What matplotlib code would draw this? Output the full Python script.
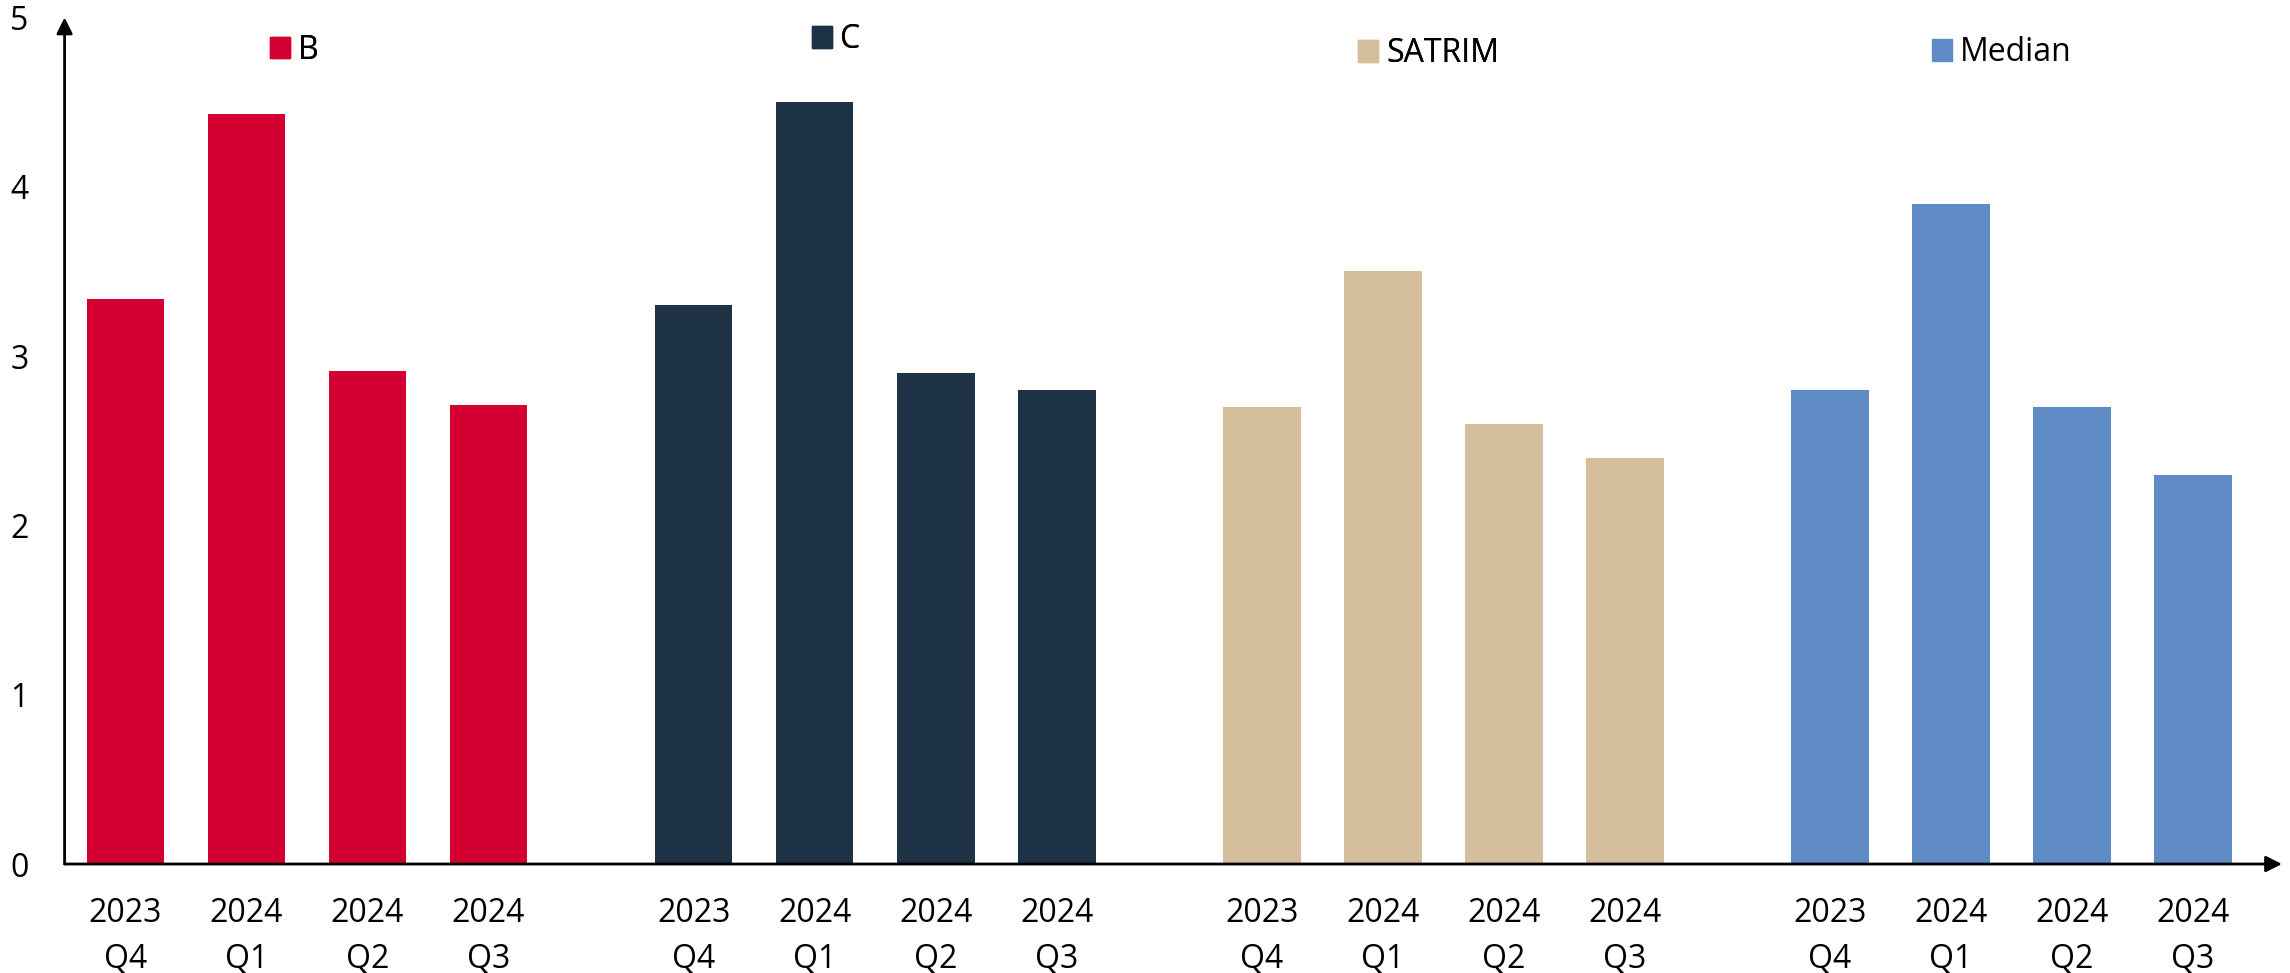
import matplotlib
matplotlib.use('Agg')
import matplotlib.pyplot as plt
from matplotlib.patches import Patch
import numpy as np

plt.rcParams['font.family'] = ['Open Sans', 'DejaVu Sans']

# data
series = ['B', 'C', 'SATRIM', 'Median']
quarters = ['2023\nQ4', '2024\nQ1', '2024\nQ2', '2024\nQ3']
b_vals = [3.34, 4.43, 2.91, 2.71]
c_vals = [3.30, 4.50, 2.90, 2.80]
satrim_vals = [2.70, 3.50, 2.60, 2.40]
median_vals = [2.80, 3.90, 2.70, 2.30]
colors = ['#D50032', '#1E3246', '#D5BE9B', '#5F8CC6']

all_vals = [b_vals, c_vals, satrim_vals, median_vals]

# layout
group_step = 4.695
bar_w = 0.642
legend_pos = [(0.1179, 0.9486), (0.3546, 0.9594), (0.5930, 0.9450), (0.8437, 0.9460)]
fs = 23

fig = plt.figure(figsize=(22.9, 9.73), dpi=100)
ax = fig.add_axes([0.0282, 0.112, 0.9965 - 0.0282, 0.982 - 0.112])

ticks, labels = [], []
for g, vals in enumerate(all_vals):
    xs = g * group_step + np.arange(len(vals))
    ax.bar(xs, vals, width=bar_w, color=colors[g], zorder=2)
    ticks.extend(xs)
    labels.extend(quarters)

ax.set_xlim(-0.503, 17.82)
ax.set_ylim(0, 5)
ax.set_xticks(ticks)
ax.set_xticklabels(labels, fontsize=fs, linespacing=1.48)
ax.set_yticks(range(6))
ax.set_yticklabels([str(i) for i in range(6)], fontsize=fs)
ax.tick_params(axis='x', length=0, pad=24)
ax.tick_params(axis='y', length=0, pad=26)
for s in ax.spines.values():
    s.set_visible(False)

# axis arrows
arrow = dict(arrowstyle='-|>', color='black', lw=2, mutation_scale=24, shrinkA=0, shrinkB=0)
ax.annotate('', xy=(0, 1), xytext=(0, 0), xycoords='axes fraction', arrowprops=arrow, zorder=3)
ax.annotate('', xy=(1, 0), xytext=(0, 0), xycoords='axes fraction', arrowprops=arrow, zorder=3)

# one legend per group, placed above it
legs = []
for name, col, pos in zip(series, colors, legend_pos):
    leg = fig.legend(handles=[Patch(color=col, label=name)], loc='center left',
                     bbox_to_anchor=pos, frameon=False, fontsize=fs,
                     handlelength=0.63, handleheight=0.66, handletextpad=0.25,
                     borderpad=0, borderaxespad=0)
    legs.append(leg)
for leg in legs[:-1]:
    fig.add_artist(leg)

plt.savefig('out.png', dpi=100)
plt.close(fig)
